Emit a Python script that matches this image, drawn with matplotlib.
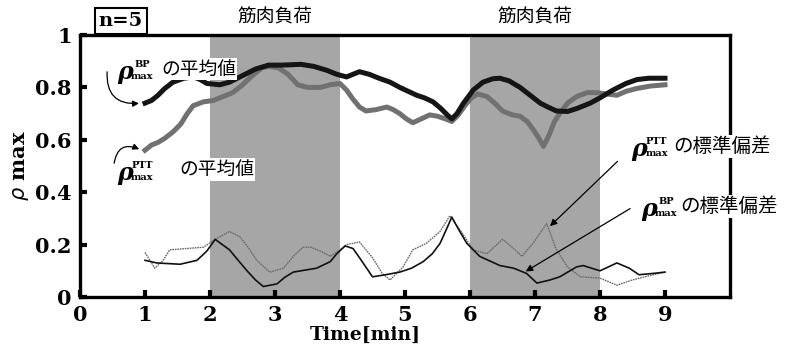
import matplotlib
matplotlib.use("Agg")
import matplotlib.pyplot as plt

# mean of rho_max (BP), thick black
bp_mean_t = [1.0, 1.1, 1.2, 1.3, 1.43, 1.6, 1.75, 1.85, 1.95, 2.15, 2.3, 2.5, 2.7, 2.9, 3.1, 3.4,
             3.6, 3.8, 3.95, 4.1, 4.2, 4.3, 4.45, 4.6, 4.77, 4.92, 5.05, 5.18, 5.3, 5.43, 5.55,
             5.65, 5.72, 5.8, 5.9, 6.05, 6.2, 6.35, 6.46, 6.6, 6.77, 6.9, 7.08, 7.2, 7.33, 7.5,
             7.65, 7.85, 8.0, 8.2, 8.4, 8.57, 8.75, 9.0]
bp_mean = [0.74, 0.75, 0.77, 0.795, 0.82, 0.835, 0.84, 0.83, 0.815, 0.81, 0.82, 0.845, 0.87, 0.885,
           0.885, 0.888, 0.88, 0.865, 0.85, 0.84, 0.85, 0.86, 0.85, 0.835, 0.82, 0.80, 0.785, 0.77,
           0.76, 0.745, 0.72, 0.695, 0.68, 0.70, 0.74, 0.79, 0.82, 0.833, 0.835, 0.825, 0.80, 0.775,
           0.74, 0.725, 0.71, 0.708, 0.72, 0.74, 0.76, 0.79, 0.815, 0.83, 0.835, 0.835]

# mean of rho_max (PTT), thick grey
ptt_mean_t = [1.0, 1.1, 1.2, 1.3, 1.43, 1.55, 1.65, 1.74, 1.9, 2.05, 2.2, 2.35, 2.5, 2.65, 2.8, 2.9,
              3.05, 3.2, 3.35, 3.5, 3.7, 3.85, 4.0, 4.1, 4.2, 4.3, 4.4, 4.55, 4.72, 4.82, 4.92, 5.02,
              5.12, 5.25, 5.38, 5.5, 5.62, 5.72, 5.82, 5.92, 6.02, 6.12, 6.26, 6.38, 6.5, 6.65, 6.77,
              6.88, 6.97, 7.05, 7.13, 7.22, 7.3, 7.38, 7.5, 7.64, 7.8, 7.95, 8.1, 8.26, 8.4, 8.55,
              8.77, 9.0]
ptt_mean = [0.56, 0.58, 0.59, 0.605, 0.63, 0.66, 0.70, 0.73, 0.745, 0.75, 0.765, 0.78, 0.81, 0.845,
            0.875, 0.88, 0.875, 0.85, 0.81, 0.80, 0.80, 0.81, 0.815, 0.79, 0.755, 0.725, 0.71, 0.715,
            0.725, 0.715, 0.70, 0.68, 0.665, 0.68, 0.695, 0.69, 0.68, 0.67, 0.695, 0.73, 0.76, 0.775,
            0.765, 0.74, 0.71, 0.695, 0.69, 0.67, 0.64, 0.61, 0.575, 0.62, 0.67, 0.70, 0.74, 0.765,
            0.78, 0.78, 0.775, 0.77, 0.785, 0.795, 0.805, 0.81]

# standard deviation of rho_max (BP), thin black
bp_sd_t = [1.0, 1.18, 1.54, 1.8, 1.95, 2.08, 2.3, 2.45, 2.57, 2.7, 2.82, 3.03, 3.15, 3.28, 3.64, 3.85,
           3.95, 4.08, 4.2, 4.3, 4.5, 4.7, 4.92, 5.1, 5.28, 5.42, 5.54, 5.64, 5.72, 5.82, 5.95, 6.15,
           6.46, 6.67, 6.87, 7.03, 7.23, 7.38, 7.64, 7.74, 8.0, 8.26, 8.45, 8.6, 8.82, 9.0]
bp_sd = [0.14, 0.13, 0.125, 0.14, 0.175, 0.22, 0.18, 0.135, 0.10, 0.065, 0.04, 0.05, 0.075, 0.095,
         0.11, 0.135, 0.165, 0.195, 0.185, 0.15, 0.077, 0.085, 0.095, 0.11, 0.135, 0.165, 0.205, 0.26,
         0.305, 0.26, 0.205, 0.155, 0.12, 0.11, 0.09, 0.053, 0.065, 0.077, 0.115, 0.12, 0.10, 0.13,
         0.11, 0.085, 0.09, 0.095]

# standard deviation of rho_max (PTT), thin dotted grey
ptt_sd_t = [1.0, 1.15, 1.28, 1.38, 1.64, 1.9, 2.08, 2.3, 2.46, 2.6, 2.72, 2.92, 3.13, 3.3, 3.43, 3.55,
            3.7, 3.85, 4.0, 4.1, 4.3, 4.5, 4.65, 4.77, 4.97, 5.12, 5.33, 5.54, 5.69, 5.85, 6.05, 6.26,
            6.5, 6.65, 6.8, 6.97, 7.18, 7.33, 7.5, 7.7, 8.0, 8.26, 8.5, 8.82, 9.0]
ptt_sd = [0.17, 0.11, 0.14, 0.18, 0.185, 0.19, 0.22, 0.25, 0.23, 0.185, 0.14, 0.095, 0.11, 0.16, 0.19,
          0.19, 0.175, 0.155, 0.18, 0.20, 0.21, 0.15, 0.09, 0.065, 0.115, 0.18, 0.205, 0.25, 0.31, 0.255,
          0.18, 0.165, 0.22, 0.19, 0.155, 0.205, 0.28, 0.18, 0.115, 0.077, 0.072, 0.045, 0.065, 0.085,
          0.095]

load_periods = [(2, 4), (6, 8)]
load_label = "筋肉負荷"
x_ticks = list(range(10))
y_ticks = [0, 0.2, 0.4, 0.6, 0.8, 1]
y_tick_labels = ["0", "0.2", "0.4", "0.6", "0.8", "1"]

JP = ["Noto Sans CJK JP", "DejaVu Sans"]
SERIF = "DejaVu Serif"

fig = plt.figure(figsize=(7.95, 3.47), dpi=100)
ax = fig.add_axes([80 / 795, 50 / 347, 650 / 795, 262 / 347])
ax.set_xlim(0, 10)
ax.set_ylim(0, 1)

for a, b in load_periods:
    ax.axvspan(a, b, color="#a6a6a6", lw=0, zorder=0)
    ax.text((a + b) / 2, 1.068, load_label, ha="center", va="center", fontsize=13.5,
            family=JP, clip_on=False)

ax.plot(ptt_sd_t, ptt_sd, color="#6a6a6a", lw=1.0, ls=(0, (1.2, 0.6)), zorder=3)
ax.plot(bp_sd_t, bp_sd, color="#111111", lw=1.2, zorder=3)
ax.plot(ptt_mean_t, ptt_mean, color="#717171", lw=3.6, zorder=4, solid_joinstyle="round")
ax.plot(bp_mean_t, bp_mean, color="#151515", lw=3.6, zorder=5, solid_joinstyle="round")

for s in ax.spines.values():
    s.set_linewidth(2.4)
ax.set_xticks(x_ticks)
ax.set_yticks(y_ticks)
ax.set_yticklabels(y_tick_labels)
ax.tick_params(direction="in", length=5, width=3, pad=6)
for lab in ax.get_xticklabels() + ax.get_yticklabels():
    lab.set_family(SERIF)
    lab.set_fontweight("bold")
    lab.set_fontsize(15)

ax.set_xlabel("Time[min]", family=SERIF, fontweight="bold", fontsize=13.5)
ax.xaxis.set_label_coords((365 - 80) / 650, -0.11)
ax.set_ylabel(r"$\rho$ max", family=SERIF, fontweight="bold", fontsize=15)
ax.yaxis.set_label_coords(-0.075, 0.5)

ax.text(0.63, 1.053, "n=5", ha="center", va="center", fontsize=14, family=SERIF, fontweight="bold",
        bbox=dict(boxstyle="square,pad=0.2", fc="white", ec="black", lw=1.5), zorder=10, clip_on=False)


def rho_label(x, y, sup, tail, dx_tail, size):
    ax.text(x, y, "ρ", ha="center", va="center", fontsize=17, family=SERIF, fontweight="bold",
            style="italic", zorder=11, clip_on=False)
    ax.text(x + 0.27, y + 0.028, sup, ha="center", va="center", fontsize=7, family=SERIF,
            fontweight="bold", zorder=11, clip_on=False)
    ax.text(x + 0.27, y - 0.018, "max", ha="center", va="center", fontsize=7, family=SERIF,
            fontweight="bold", zorder=11, clip_on=False)
    ax.text(x + dx_tail, y + 0.01, tail, ha="left", va="center", fontsize=size, family=JP,
            zorder=10, clip_on=False,
            bbox=dict(boxstyle="square,pad=0.05", fc="white", ec="none"))


rho_label(0.69, 0.86, "BP", "の平均値", 0.56, 13.5)
rho_label(0.69, 0.475, "PTT", "の平均値", 0.84, 13.5)
rho_label(8.6, 0.565, "PTT", "の標準偏差", 0.52, 14)
rho_label(8.75, 0.335, "BP", "の標準偏差", 0.48, 14)

ax.annotate("", xy=(bp_mean_t[0] - 0.05, bp_mean[0]), xytext=(0.42, 0.87),
            arrowprops=dict(arrowstyle="-|>", color="black", lw=0.9,
                            connectionstyle="arc3,rad=0.6", mutation_scale=9))
ax.annotate("", xy=(ptt_mean_t[0] - 0.05, ptt_mean[0]), xytext=(0.52, 0.50),
            arrowprops=dict(arrowstyle="-|>", color="black", lw=0.9,
                            connectionstyle="arc3,rad=-0.7", mutation_scale=9))
ax.annotate("", xy=(7.2, 0.263), xytext=(8.3, 0.525),
            arrowprops=dict(arrowstyle="-|>", color="black", lw=0.9, mutation_scale=10))
ax.annotate("", xy=(6.82, 0.092), xytext=(8.5, 0.343),
            arrowprops=dict(arrowstyle="-|>", color="black", lw=0.9, mutation_scale=10))

fig.savefig("out.png", dpi=100)
